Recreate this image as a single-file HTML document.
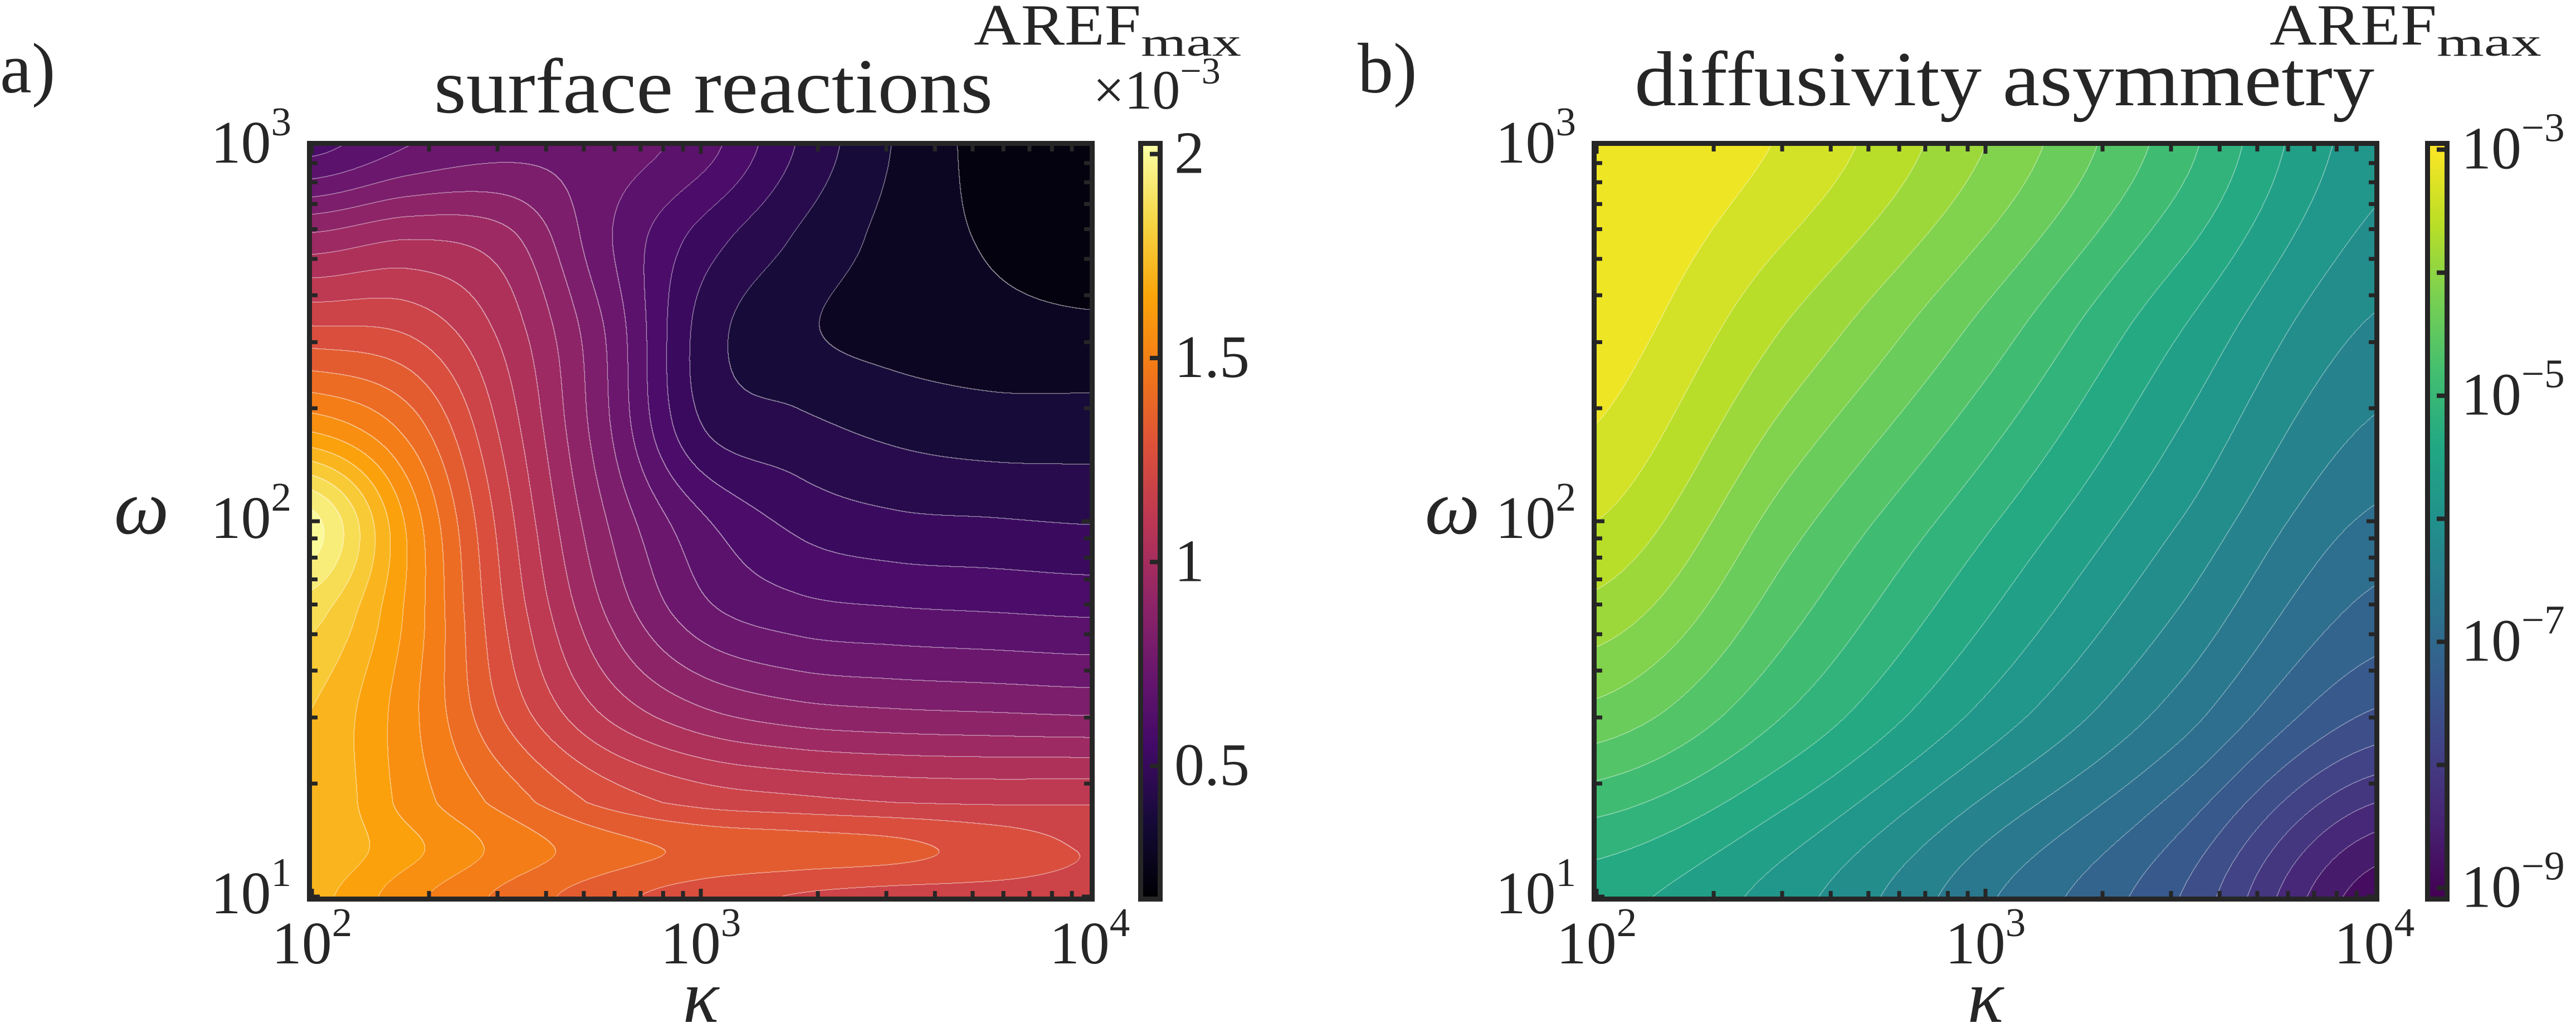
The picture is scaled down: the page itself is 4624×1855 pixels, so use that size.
<!DOCTYPE html>
<html><head><meta charset="utf-8">
<style>
html,body{margin:0;padding:0;background:#fff;}
#wrap{position:relative;width:4624px;height:1855px;overflow:hidden;background:#fff;}
canvas{position:absolute;}
svg{position:absolute;left:0;top:0;}
text{font-family:"Liberation Serif","DejaVu Serif",serif;fill:#262626;}
</style></head>
<body>
<div id="wrap">
<canvas id="ca" width="1396" height="1348" style="left:560px;top:262px"></canvas>
<canvas id="cba" width="26" height="1348" style="left:2052px;top:262px"></canvas>
<canvas id="cb" width="1396" height="1348" style="left:2866px;top:262px"></canvas>
<canvas id="cbb" width="26" height="1348" style="left:4362px;top:262px"></canvas>
<svg id="ov" width="4624" height="1855"></svg>
</div>
<script>
// ---- data: panel a (AREF_max x1e-3), rows = log10(omega) top->bottom, cols = log10(kappa)
const A_logk=[2,2.25,2.5,2.75,3,3.25,3.5,3.75,4];
const A_logw=[3,2.75,2.5,2.25,2,1.75,1.5,1.25,1.125,1];
const A_vals=[
[0.60,0.70,0.75,0.74,0.66,0.47,0.32,0.22,0.17],
[0.95,1.00,0.95,0.72,0.52,0.39,0.30,0.24,0.20],
[1.25,1.22,1.05,0.78,0.45,0.34,0.30,0.28,0.27],
[1.58,1.42,1.12,0.80,0.48,0.42,0.38,0.36,0.36],
[2.00,1.58,1.18,0.86,0.64,0.53,0.49,0.48,0.47],
[1.85,1.58,1.22,0.93,0.73,0.66,0.64,0.63,0.62],
[1.75,1.55,1.28,1.06,0.93,0.87,0.85,0.84,0.83],
[1.75,1.57,1.42,1.28,1.20,1.17,1.15,1.14,1.14],
[1.74,1.62,1.50,1.41,1.36,1.34,1.32,1.27,1.22],
[1.70,1.55,1.43,1.33,1.26,1.22,1.20,1.20,1.20]];
const A_ticks=[0.5,1,1.5,2];
const A_tickLabels=["0.5","1","1.5","2"];
// ---- data: panel b (log10 AREF_max)
const B_logk=[2,2.5,3,3.5,4];
const B_logw=[3,2.5,2,1.5,1];
const B_vals=[
[-2.98,-3.3,-4.0,-4.9,-5.9],
[-3.1,-3.8,-4.6,-5.5,-6.3],
[-3.5,-4.4,-5.2,-6.0,-6.8],
[-4.3,-5.0,-5.8,-6.6,-7.5],
[-5.4,-5.9,-6.7,-7.5,-8.9]];
const B_ticks=[-3,-5,-7,-9];
const B_tickLabels=["−3","−5","−7","−9"];
const xTicks=[2,3,4];
const yTicks=[1,2,3];

const INFERNO=["#000004","#160b39","#420a68","#6a176e","#932667","#bc3754","#dd513a","#f37819","#fca50a","#f6d746","#fcffa4"];
const VIRIDIS=["#440154","#482475","#414487","#355f8d","#2a788e","#21918c","#22a884","#44bf70","#7ad151","#bddf26","#fde725"];
function hex(h){return [parseInt(h.substr(1,2),16),parseInt(h.substr(3,2),16),parseInt(h.substr(5,2),16)];}
function cmap(stops,t){t=Math.max(0,Math.min(1,t));const n=stops.length-1;const f=t*n;const i=Math.min(n-1,Math.floor(f));const u=f-i;const a=hex(stops[i]),b=hex(stops[i+1]);return [a[0]+(b[0]-a[0])*u,a[1]+(b[1]-a[1])*u,a[2]+(b[2]-a[2])*u];}
function cr(p0,p1,p2,p3,t){return 0.5*((2*p1)+(-p0+p2)*t+(2*p0-5*p1+4*p2-p3)*t*t+(-p0+3*p1-3*p2+p3)*t*t*t);}
function fracIndex(arr,v){const n=arr.length;for(let i=0;i<n-1;i++){const a=arr[i],b=arr[i+1];const lo=Math.min(a,b),hi=Math.max(a,b);if(v>=lo&&v<=hi)return i+(v-a)/(b-a);}
  return (Math.abs(v-arr[0])<Math.abs(v-arr[n-1]))?0:n-1;}
function sample(vals,gx,gy){const R=vals.length,C=vals[0].length;
  const ix=Math.min(C-2,Math.max(0,Math.floor(gx))),iy=Math.min(R-2,Math.max(0,Math.floor(gy)));
  const tx=gx-ix,ty=gy-iy;const g=(r,c)=>vals[Math.max(0,Math.min(R-1,r))][Math.max(0,Math.min(C-1,c))];
  const rows=[];for(let r=-1;r<=2;r++){rows.push(cr(g(iy+r,ix-1),g(iy+r,ix),g(iy+r,ix+1),g(iy+r,ix+2),tx));}
  return cr(rows[0],rows[1],rows[2],rows[3],ty);}
function render(id,logk,logw,vals,levels,stops,vmin,vmax){
  const cv=document.getElementById(id),W=cv.width,H=cv.height,ctx=cv.getContext('2d');
  const img=ctx.createImageData(W,H);const idx=new Int16Array(W*H);
  const gxs=new Float32Array(W);for(let x=0;x<W;x++)gxs[x]=fracIndex(logk,2+2*(x+0.5)/W);
  for(let y=0;y<H;y++){const gy=fracIndex(logw,3-2*(y+0.5)/H);
    for(let x=0;x<W;x++){const v=sample(vals,gxs[x],gy);let i=0;while(i<levels.length&&v>=levels[i])i++;idx[y*W+x]=i;}}
  const bandCol=[];for(let i=0;i<=levels.length;i++){const lo=i==0?vmin:levels[i-1],hi=i==levels.length?vmax:levels[i];bandCol.push(cmap(stops,((lo+hi)/2-vmin)/(vmax-vmin)));}
  for(let y=0;y<H;y++)for(let x=0;x<W;x++){const p=y*W+x;let c=bandCol[idx[p]];
    const i=idx[p];let line=false;
    if(x+1<W&&idx[p+1]!=i)line=true;if(y+1<H&&idx[p+W]!=i)line=true;
    if(line){c=[c[0]*0.3+255*0.7,c[1]*0.3+255*0.7,c[2]*0.3+255*0.7];}
    img.data[p*4]=c[0];img.data[p*4+1]=c[1];img.data[p*4+2]=c[2];img.data[p*4+3]=255;}
  ctx.putImageData(img,0,0);}
function renderBar(id,stops){const cv=document.getElementById(id),ctx=cv.getContext('2d');
  for(let y=0;y<cv.height;y++){const c=cmap(stops,1-y/(cv.height-1));ctx.fillStyle=`rgb(${c[0]|0},${c[1]|0},${c[2]|0})`;ctx.fillRect(0,y,cv.width,1);}}
const A_levels=[];for(let v=0.25;v<2.0;v+=0.075)A_levels.push(+v.toFixed(3));
const B_levels=[];for(let v=-9;v<-3;v+=0.25)B_levels.push(v);
render('ca',A_logk,A_logw,A_vals,A_levels,INFERNO,0.18,2.02);
render('cb',B_logk,B_logw,B_vals,B_levels,VIRIDIS,-9.07,-2.97);
renderBar('cba',INFERNO);renderBar('cbb',VIRIDIS);

// ---- SVG overlay
const NS="http://www.w3.org/2000/svg";const svg=document.getElementById('ov');
const FF='"Liberation Serif", "DejaVu Serif", serif';
function el(tag,attrs,parent){const e=document.createElementNS(NS,tag);for(const k in attrs)e.setAttribute(k,attrs[k]);(parent||svg).appendChild(e);return e;}
function sup(x,y,base,exp,anchor,fs,name){const t=el('text',{x:x,y:y,'font-size':fs,'text-anchor':anchor,'font-family':FF,fill:'#262626'});
  
  
  t.appendChild(document.createTextNode(base));const s=el('tspan',{dy:-Math.round(fs*0.45),'font-size':Math.round(fs*0.68)},t);s.textContent=exp;return t;}
function txt(x,y,s,fs,anchor,name,extra){const t=el('text',Object.assign({x:x,y:y,'font-size':fs,'text-anchor':anchor||'start','font-family':FF,fill:'#262626'},extra||{}));
  
  
  t.textContent=s;return t;}
function panel(X0,X1,Y0,Y1,pre){
  const sx=lk=>X0+(lk-2)/2*(X1-X0), sy=lw=>Y1-(lw-1)/2*(Y1-Y0);
  const g=el('g',{});
  for(let d=2;d<4;d++)for(let m=1;m<10;m++){const lk=d+Math.log10(m);const x=sx(lk);const L=m==1?14:10;
    el('line',{x1:x,y1:Y1,x2:x,y2:Y1-L,stroke:'#262626','stroke-width':7},g);el('line',{x1:x,y1:Y0,x2:x,y2:Y0+L,stroke:'#262626','stroke-width':7},g);}
  for(let d=1;d<3;d++)for(let m=1;m<10;m++){const lw=d+Math.log10(m);const y=sy(lw);const L=m==1?14:10;
    el('line',{x1:X0,y1:y,x2:X0+L,y2:y,stroke:'#262626','stroke-width':7},g);el('line',{x1:X1,y1:y,x2:X1-L,y2:y,stroke:'#262626','stroke-width':7},g);}
  const f=el('rect',{x:X0-4.5,y:Y0-4.5,width:X1-X0+9,height:Y1-Y0+9,fill:'none',stroke:'#262626','stroke-width':9});
  
  xTicks.forEach(t=>sup(sx(t),1730,'10',String(t),'middle',108,pre+'-x-tick-label'));
  yTicks.forEach(t=>sup(X0-37,sy(t)+30,'10',String(t),'end',108,pre+'-y-tick-label'));
  txt((X0+X1)/2,1835,'κ',135,'middle',pre+'-x-axis-title',{'font-style':'italic'});
}
panel(560,1956,262,1610,'a');panel(2866,4262,262,1610,'b');
// colorbars
function cbar(X0,X1,Y0,Y1,ticks,labels,vmin,vmax,isExp,pre){
  const f=el('rect',{x:X0-4.5,y:Y0-4.5,width:X1-X0+9,height:Y1-Y0+9,fill:'none',stroke:'#262626','stroke-width':9});
  
  ticks.forEach((t,i)=>{const y=Y1-(t-vmin)/(vmax-vmin)*(Y1-Y0);
    el('line',{x1:X1,y1:y,x2:X1-14,y2:y,stroke:'#262626','stroke-width':8});
    if(isExp)sup(X1+30,y+34,'10',labels[i],'start',108,pre+'-colorbar-label');else txt(X1+30,y+34,labels[i],108,'start',pre+'-colorbar-label');});
  if(isExp){for(let t=-4;t>=-8;t-=2){const y=Y1-(t-vmin)/(vmax-vmin)*(Y1-Y0);el('line',{x1:X1,y1:y,x2:X1-14,y2:y,stroke:'#262626','stroke-width':8});}}
}
cbar(2052,2078,262,1610,A_ticks,A_tickLabels,0.18,2.02,false,'a');
cbar(4362,4388,262,1610,B_ticks,B_tickLabels,-9.07,-2.97,true,'b');
// titles and labels
txt(0,166,'a)',128,'start','panel-a-label');
txt(2437,166,'b)',128,'start','panel-b-label');
txt(779,202,'surface reactions',140,'start','title-a',{textLength:1003,lengthAdjust:'spacingAndGlyphs'});
txt(2934,189,'diffusivity asymmetry',140,'start','title-b',{textLength:1328,lengthAdjust:'spacingAndGlyphs'});
txt(254,958,'ω',140,'middle','a-y-axis-title',{'font-style':'italic'});
txt(2607,958,'ω',140,'middle','b-y-axis-title',{'font-style':'italic'});
function aref(x,y,w,name){const t=el('text',{x:x,y:y,'font-size':105,'font-family':FF,fill:'#262626'});
  
  
  const a=el('tspan',{textLength:300,lengthAdjust:'spacingAndGlyphs'},t);a.textContent='AREF';
  const s=el('tspan',{dy:20,'font-size':72,textLength:w-300,lengthAdjust:'spacingAndGlyphs'},t);s.textContent='max';}
aref(1748,80,480,'colorbar-a-title');aref(4074,80,488,'colorbar-b-title');
sup(1962,195,'×10','−3','start',100,'colorbar-a-multiplier');
</script>
</body></html>
